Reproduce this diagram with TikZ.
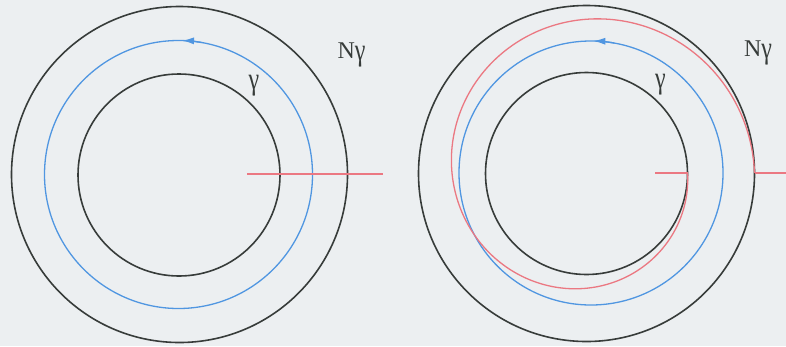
\documentclass[tikz,border=0pt]{standalone}
\usepackage{fontspec}
\setmainfont{Liberation Serif}
\usetikzlibrary{arrows.meta}
\definecolor{bgc}{RGB}{236,239,241}
\definecolor{ringc}{RGB}{55,60,58}
\definecolor{bluec}{RGB}{80,150,225}
\definecolor{redc}{RGB}{235,120,130}
\tikzset{
  ring/.style={draw=ringc, line width=1.6pt},
  bluering/.style={draw=bluec, line width=1.3pt},
  redline/.style={draw=redc, line width=1.3pt},
  flowtip/.style={draw=bluec, line width=1.3pt, -{Latex[length=12pt,width=7pt]}},
  lab/.style={inner sep=0pt, text=ringc, font=\fontsize{24}{28}\selectfont},
}
\begin{document}
\begin{tikzpicture}[x=1pt,y=-1pt]
\fill[bgc] (0,0) rectangle (786,346);
\useasboundingbox (0,0) rectangle (786,346);
% ---- left figure ----
\coordinate (Lo) at (179.5,174.5);
\coordinate (Lb) at (178.5,174.5);
\coordinate (Li) at (179,175);
\draw[ring] (Lo) circle[radius=168];
\draw[bluering] (Lb) circle[radius=134];
\draw[ring] (Li) circle[radius=101];
\draw[flowtip] ([shift={(-80:134)}]Lb) arc[start angle=-80,end angle=-88.5,radius=134];
\coordinate (La) at (247,174);
\coordinate (Lz) at (383,174);
\draw[redline] (La) -- (Lz);
\node[lab] (Lg) at (254,86) {\scalebox{1}[1.3]{γ}};
\node[lab] (LN) at (351.5,55) {N\raisebox{-0.1em}{\scalebox{1}[1.3]{γ}}};
% ---- right figure ----
\coordinate (Ro) at (586.5,173.5);
\coordinate (Rb) at (591,173);
\draw[ring] (Ro) circle[radius=168];
\draw[bluering] (Rb) circle[radius=132];
\draw[ring] (Ro) circle[radius=101];
\draw[flowtip] ([shift={(-80:132)}]Rb) arc[start angle=-80,end angle=-89,radius=132];
\coordinate (Ra) at (655,173);
\coordinate (Rs) at (687.5,173);
\coordinate (Re) at (754.5,173);
\coordinate (Rz) at (786,173);
\draw[redline] (Ra) -- (Rs);
\draw[redline] plot[domain=0:360, samples=240, smooth]
  ({586.5+(101+67*(0.6*\x/360+0.4*(3*(\x/360)^2-2*(\x/360)^3)))*cos(\x)},
   {173+(101+67*(0.6*\x/360+0.4*(3*(\x/360)^2-2*(\x/360)^3)))*sin(\x)});
\draw[redline] (Re) -- (Rz);
\node[lab] (Rg) at (660.5,85) {\scalebox{1}[1.3]{γ}};
\node[lab] (RN) at (758,53) {N\raisebox{-0.1em}{\scalebox{1}[1.3]{γ}}};
\end{tikzpicture}
\end{document}
